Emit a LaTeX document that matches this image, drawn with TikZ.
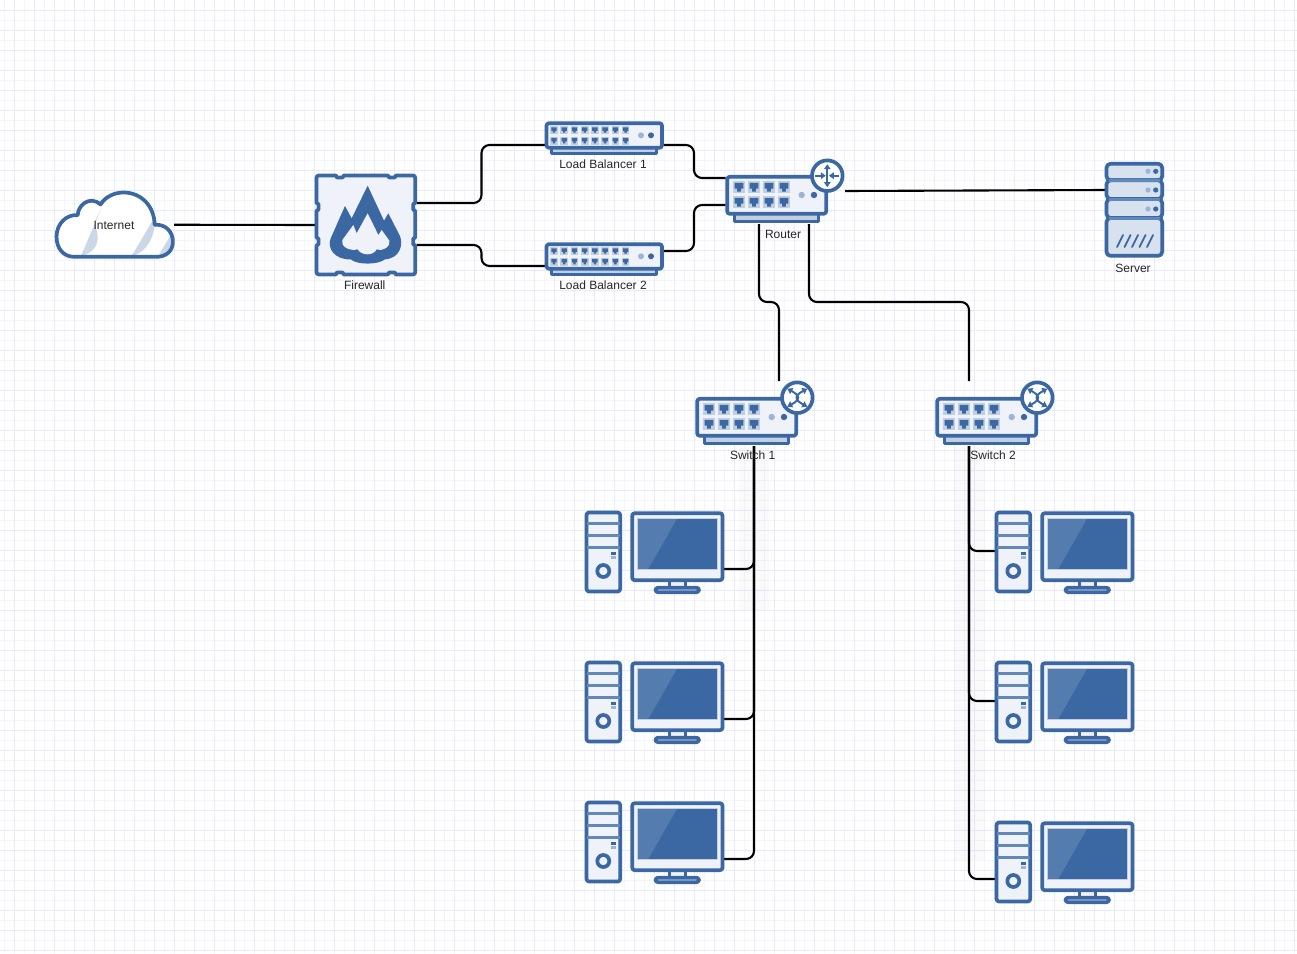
\documentclass[tikz,border=0pt]{standalone}
\usepackage{fontspec}
\setmainfont{Liberation Sans}
\usetikzlibrary{arrows.meta}
\definecolor{nblue}{HTML}{3B68A3}
\definecolor{nfill}{HTML}{EFF3F9}
\definecolor{nport}{HTML}{C0CFE2}
\definecolor{ndot}{HTML}{9DB5D4}
\definecolor{nsrv}{HTML}{D8E1EE}
\definecolor{nsep}{HTML}{6088BA}
\definecolor{nshade}{HTML}{CBD7E6}
\definecolor{gridmaj}{HTML}{E8E8FF}
\definecolor{gridmin}{HTML}{F4F4FF}
\newcommand{\portcell}[3]{%
  \begin{scope}[shift={(#1,#2)},scale=#3]
    \fill[nport] (-.5,-.5) rectangle (.5,.5);
    \fill[nblue] (-.36,-.36) -- (.36,-.36) -- (.36,.1) -- (.16,.1) -- (.16,.36) -- (-.16,.36) -- (-.16,.1) -- (-.36,.1) -- cycle;
  \end{scope}}
\tikzset{
  iconline/.style={draw=nblue,line width=3.7pt,line join=round},
  iconbox/.style={iconline,fill=nfill,rounded corners=2.5pt},
  wire/.style={draw=black,line width=2.1pt,rounded corners=8pt},
  area/.style={inner sep=0pt,outer sep=0pt,anchor=north west},
  lbl/.style={inner sep=0pt,text=black!85,font=\fontsize{12}{14}\selectfont},
  badgearrow/.style={draw=nblue,line width=2pt},
  lbicon/.pic={
    \draw[iconline,fill=nport] (6.5,26) rectangle (111.5,32.5);
    \draw[iconbox] (1.5,2.2) rectangle (117,26.8);
    \foreach \px in {9,19.24,29.48,39.72,49.96,60.2,70.44,80.68} {\portcell{\px}{9}{7.6}\portcell{\px}{19.7}{7.6}}
    \fill[ndot] (96,14.3) circle (3);
    \fill[nblue] (106,14.3) circle (3);
  },
  routerbody/.pic={
    \draw[iconline,fill=nport] (8.8,38) rectangle (92.8,46.2);
    \draw[iconbox] (1.5,1.5) rectangle (100.5,38.5);
    \foreach \px in {13.3,28.3,43.3,58.3} {\portcell{\px}{12}{12}\portcell{\px}{27}{12}}
    \fill[ndot] (76,19.7) circle (3.2);
    \fill[nblue] (88.3,19.7) circle (3.2);
  },
  routerbadge/.pic={
    \draw[iconline,fill=white] (0,0) circle (15.3);
    \draw[badgearrow,-{Triangle[length=5pt,width=6.5pt]}] (-12,0) -- (-1.5,0);
    \draw[badgearrow,-{Triangle[length=5pt,width=6.5pt]}] (12,0) -- (1.5,0);
    \draw[badgearrow,{Triangle[length=5pt,width=6.5pt]}-{Triangle[length=5pt,width=6.5pt]}] (0,-11.5) -- (0,11.5);
  },
  switchbadge/.pic={
    \draw[iconline,fill=white] (0,0) circle (15.3);
    \draw[badgearrow,{Triangle[length=5pt,width=6.5pt]}-{Triangle[length=5pt,width=6.5pt]}] (-10,-9) .. controls (3,-2) and (3,2) .. (-10,9);
    \draw[badgearrow,{Triangle[length=5pt,width=6.5pt]}-{Triangle[length=5pt,width=6.5pt]}] (10,-9) .. controls (-3,-2) and (-3,2) .. (10,9);
  },
  pcicon/.pic={
    % tower
    \draw[iconbox] (1,1.3) rectangle (34.7,80.3);
    \draw[draw=nsep,line width=3pt] (1,12.2) -- (34.7,12.2) (1,23.8) -- (34.7,23.8) (1,36.2) -- (34.7,36.2);
    \fill[nblue] (25.5,41) rectangle (30.5,43.5);
    \fill[ndot] (25.5,45) rectangle (30.5,48);
    \draw[iconline] (17.8,59.8) circle (6);
    % monitor
    \draw[iconline,fill=nfill] (84,68) rectangle (100,78);
    \draw[iconbox,fill=nfill] (70,76.5) rectangle (113.5,81);
    \draw[iconbox] (46.7,2) rectangle (137,69);
    \fill[nblue] (51.8,7.1) rectangle (131.8,57.8);
    \fill[nblue!87!white] (51.8,7.1) -- (91.8,7.1) -- (62.8,57.8) -- (51.8,57.8) -- cycle;
    \draw[nport,line width=.8pt] (51.8,7.1) rectangle (131.8,57.8);
  },
  servericon/.pic={
    \draw[iconbox,fill=nsrv,rounded corners=4pt] (1.5,1.5) rectangle (57.2,18);
    \draw[iconbox,fill=nsrv,rounded corners=4pt] (1.5,18) rectangle (57.2,36.7);
    \draw[iconbox,fill=nsrv,rounded corners=4pt] (1.5,36.7) rectangle (57.2,55.7);
    \draw[iconbox,fill=nsrv,rounded corners=4pt] (1.5,55.7) rectangle (57.2,93.5);
    \draw[nsep,line width=3pt] (3.5,18) -- (55.2,18) (3.5,36.7) -- (55.2,36.7) (3.5,55.7) -- (55.2,55.7);
    \foreach \py in {9,27.7,46.7} {
      \fill[ndot] (43,\py) circle (2.6);
      \fill[nblue] (50.7,\py) circle (2.6);
    }
    \foreach \sx in {12,19.5,27,34.5,42} {
      \draw[nblue,line width=1.8pt,line cap=round] (\sx,84.7) -- (\sx+6,72.7);
    }
  },
  cloudicon/.pic={
    \begin{scope}[scale=1/3]
      \begin{scope}[shift={(4.9,5)},xscale=.978,yscale=.97]
      \path[fill=white] (70,217) .. controls (35,217) and (15,190) .. (15,155) .. controls (15,115) and (45,85) .. (80,88) .. controls (80,60) and (115,25) .. (150,55) .. controls (165,30) and (195,18) .. (220,18) .. controls (275,18) and (315,60) .. (316,118) .. controls (350,115) and (372,140) .. (372,170) .. controls (372,200) and (350,217) .. (322,217) -- cycle;
      \end{scope}
      \fill[nshade] (155,68) -- (93,213) .. controls (125,205) and (145,185) .. (143,155) .. controls (143,135) and (130,120) .. (135,108) -- cycle;
      \fill[nshade] (312,100) -- (245,213) .. controls (280,205) and (305,175) .. (314,125) -- cycle;
      \fill[nshade] (362,150) -- (325,213) .. controls (350,213) and (368,195) .. (366,165) -- cycle;
      \begin{scope}[shift={(4.9,5)},xscale=.978,yscale=.97]
      \draw[iconline] (70,217) .. controls (35,217) and (15,190) .. (15,155) .. controls (15,115) and (45,85) .. (80,88) .. controls (80,60) and (115,25) .. (150,55) .. controls (165,30) and (195,18) .. (220,18) .. controls (275,18) and (315,60) .. (316,118) .. controls (350,115) and (372,140) .. (372,170) .. controls (372,200) and (350,217) .. (322,217) -- cycle;
      \end{scope}
    \end{scope}
  },
  firewallicon/.pic={
    \begin{scope}[scale=1/3]
      \begin{scope}[shift={(4.94,2.8)},xscale=.971,yscale=.98]
      \draw[iconline,fill=nfill] (22,14) -- (75,14) -- (78,20) -- (96,20) -- (99,14) -- (236,14) -- (239,20) -- (257,20) -- (260,14) -- (313,14)
        .. controls (317,14) and (320,17) .. (320,21) -- (320,98) -- (314,101) -- (314,119) -- (320,122) -- (320,204) -- (314,207) -- (314,225) -- (320,228) -- (320,310)
        .. controls (320,314) and (317,317) .. (313,317) -- (260,317) -- (257,311) -- (239,311) -- (236,317) -- (99,317) -- (96,311) -- (78,311) -- (75,317) -- (22,317)
        .. controls (18,317) and (15,314) .. (15,310) -- (15,228) -- (21,225) -- (21,207) -- (15,204) -- (15,122) -- (21,119) -- (21,101) -- (15,98) -- (15,21)
        .. controls (15,17) and (18,14) .. (22,14) -- cycle;
      \end{scope}
      \fill[nblue] (173,47) -- (222,152) -- (235,130) -- (270,198) .. controls (280,225) and (270,265) .. (225,268)
        .. controls (205,285) and (140,285) .. (122,268)
        .. controls (75,270) and (50,235) .. (62,205) -- (105,108) -- (125,145) -- cycle;
      \fill[nfill] (173,130) -- (205,195) -- (215,180) -- (238,212) .. controls (243,228) and (222,245) .. (200,238)
        .. controls (190,258) and (155,258) .. (143,238)
        .. controls (118,245) and (90,228) .. (97,210) -- (130,165) -- (140,190) -- cycle;
    \end{scope}
  },
}
\begin{document}
\begin{tikzpicture}[x=1pt,y=-1pt]
\useasboundingbox (0,0) rectangle (1297,953);
\fill[white] (0,0) rectangle (1297,953);
% grid
\foreach \gx in {4.5,24.5,...,1297} {\draw[gridmin,line width=1pt] (\gx,0) -- (\gx,953);}
\foreach \gy in {20.5,40.5,...,953} {\draw[gridmin,line width=1pt] (0,\gy) -- (1297,\gy);}
\foreach \gx in {14.5,34.5,...,1297} {\draw[gridmaj,line width=1pt] (\gx,0) -- (\gx,953);}
\foreach \gy in {10.5,30.5,...,953} {\draw[gridmaj,line width=1pt] (0,\gy) -- (1297,\gy);}
% faint bands behind the vertical buses
\fill[black,opacity=.02] (739,447) rectangle (769,610);
\fill[black,opacity=.02] (955,447) rectangle (985,860);

% node areas
\node[area,minimum width=119pt,minimum height=67.5pt] (internet) at (55,191) {};
\node[area,minimum width=101.5pt,minimum height=102pt] (firewall) at (315,174) {};
\node[area,minimum width=119pt,minimum height=34pt] (lb1) at (545,121) {};
\node[area,minimum width=119pt,minimum height=34pt] (lb2) at (545,242) {};
\node[area,minimum width=118.5pt,minimum height=65pt] (router) at (725.7,159) {};
\node[area,minimum width=58.7pt,minimum height=96pt] (server) at (1105,162) {};
\node[area,minimum width=118.5pt,minimum height=65pt] (sw1) at (695.7,381) {};
\node[area,minimum width=118.5pt,minimum height=65pt] (sw2) at (935.7,381) {};
\node[area,minimum width=139pt,minimum height=83pt] (pc11) at (585,511) {};
\node[area,minimum width=139pt,minimum height=83pt] (pc12) at (585,661) {};
\node[area,minimum width=139pt,minimum height=83pt] (pc13) at (585,801) {};
\node[area,minimum width=139pt,minimum height=83pt] (pc21) at (995,511) {};
\node[area,minimum width=139pt,minimum height=83pt] (pc22) at (995,661) {};
\node[area,minimum width=139pt,minimum height=83pt] (pc23) at (995,821) {};

% connectors
\draw[wire] (internet.east) -- (firewall.west);
\draw[wire] ([yshift=-29pt]firewall.north east) -- ++(65,0) |- ([yshift=-24pt]lb1.north west);
\draw[wire] ([yshift=-71pt]firewall.north east) -- ++(65,0) |- ([yshift=-24pt]lb2.north west);
\draw[wire] ([yshift=-24pt]lb1.north east) -- ++(30,0) |- ([yshift=-19pt]router.north west);
\draw[wire] ([yshift=-9pt]lb2.north east) -- ++(30,0) |- ([yshift=-46pt]router.north west);
\draw[wire] ([yshift=-32pt,xshift=1pt]router.north east) -- ([yshift=-28pt]server.north west);
\draw[wire] ([xshift=33.3pt]router.south west) -- ++(0,78) -| ([xshift=83.3pt]sw1.north west);
\draw[wire] ([xshift=83.3pt]router.south west) -- ++(0,78) -| ([xshift=33.3pt]sw2.north west);
\draw[wire] ([xshift=58.3pt]sw1.south west) |- ([yshift=-58pt]pc11.north east);
\draw[wire] ([xshift=58.3pt]sw1.south west) |- ([yshift=-58pt]pc12.north east);
\draw[wire] ([xshift=58.3pt]sw1.south west) |- ([yshift=-58pt]pc13.north east);
\draw[wire] ([xshift=33.3pt]sw2.south west) |- ([yshift=-40pt]pc21.north west);
\draw[wire] ([xshift=33.3pt]sw2.south west) |- ([yshift=-40pt]pc22.north west);
\draw[wire] ([xshift=33.3pt]sw2.south west) |- ([yshift=-58pt]pc23.north west);

% icons
\pic at (50,185) {cloudicon};
\pic at (310,170) {firewallicon};
\pic at (545,121) {lbicon};
\pic at (545,242) {lbicon};
\pic at (725.7,175.3) {routerbody};
\pic at (827.3,175.7) {routerbadge};
\pic at (1105,162.3) {servericon};
\pic at (695.7,397.3) {routerbody};
\pic at (797.3,397.7) {switchbadge};
\pic at (935.7,397.3) {routerbody};
\pic at (1037.3,397.7) {switchbadge};
\pic at (585.5,511.2) {pcicon};
\pic at (585.5,661.2) {pcicon};
\pic at (585.5,801.2) {pcicon};
\pic at (995.5,511.2) {pcicon};
\pic at (995.5,661.2) {pcicon};
\pic at (995.5,821.2) {pcicon};

% labels
\node[lbl] (internet-text) at (114,225.5) {Internet};
\node[lbl] (firewall-text) at (364.7,285.5) {Firewall};
\node[lbl] (lb1-text) at (603,164.5) {Load Balancer 1};
\node[lbl] (lb2-text) at (603,285.5) {Load Balancer 2};
\node[lbl] (router-text) at (783,234.5) {Router};
\node[lbl] (server-text) at (1133,268.5) {Server};
\node[lbl] (sw1-text) at (752.7,455.5) {Switch 1};
\node[lbl] (sw2-text) at (993,455.5) {Switch 2};
\end{tikzpicture}
\end{document}
